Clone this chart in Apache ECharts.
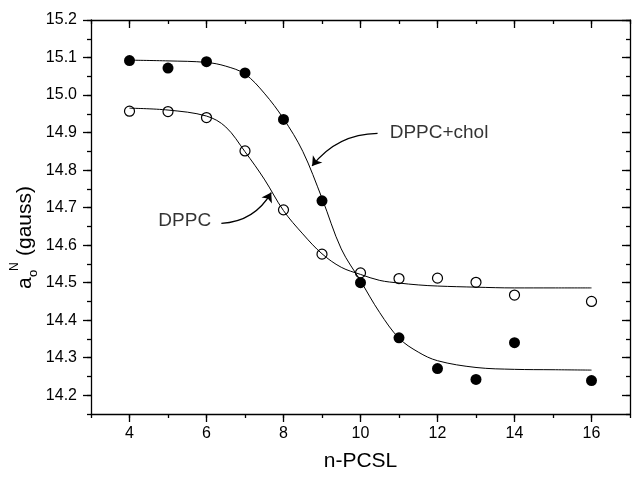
<!DOCTYPE html>
<html><head><meta charset="utf-8">
<script src="https://cdn.jsdelivr.net/npm/echarts@6/dist/echarts.min.js"></script>
<style>html,body{margin:0;padding:0;background:#fff}#c{width:633px;height:477px}</style>
</head><body><div id="c"></div>
<script>
// ---- data ----
const nPCSL = [4, 5, 6, 7, 8, 9, 10, 11, 12, 13, 14, 16];
const dppc = [14.957, 14.956, 14.940, 14.851, 14.694, 14.576, 14.526, 14.511, 14.512, 14.501, 14.467, 14.450];
const dppcChol = [15.092, 15.072, 15.089, 15.059, 14.935, 14.718, 14.500, 14.353, 14.271, 14.242, 14.340, 14.239];
// fitted curves
const fitX = [4, 5, 6, 6.5, 7, 7.5, 8, 8.5, 9, 9.5, 10, 10.5, 11, 11.5, 12, 13, 14, 15, 16];
const dppcFit = [14.965, 14.960, 14.944, 14.915, 14.849, 14.776, 14.692, 14.630, 14.577, 14.541, 14.522, 14.506, 14.499, 14.494, 14.491, 14.488, 14.486, 14.486, 14.486];
const cholFit = [15.093, 15.091, 15.087, 15.077, 15.056, 15.005, 14.937, 14.850, 14.725, 14.590, 14.505, 14.420, 14.352, 14.315, 14.292, 14.274, 14.269, 14.268, 14.267];
// tick labels
const xTickLabels = [4, 6, 8, 10, 12, 14, 16];
const yTickLabels = [14.2, 14.3, 14.4, 14.5, 14.6, 14.7, 14.8, 14.9, 15.0, 15.1, 15.2];
// annotations (data coordinates)
const annoText = ['DPPC', 'DPPC+chol'];
const annoTextPos = [[5.435, 14.666], [12.04, 14.899]];
const annoArrowFrom = [[6.386, 14.658], [10.443, 14.898]];
const annoArrowTo = [[7.681, 14.740], [8.743, 14.811]];

const FONT = '"Liberation Sans", Arial, Helvetica, sans-serif';
const INK = '#000';
const chart = echarts.init(document.getElementById('c'), null, {renderer: 'canvas'});

const lineSt = {color: INK, width: 1.3};
function xAx(pos, inside, len, custom, withLine, withLabel) {
  const a = {
    type: 'value', position: pos, min: 3, max: 17,
    axisLine: {show: withLine, onZero: false, lineStyle: lineSt},
    axisTick: {show: true, inside: inside, length: len, lineStyle: lineSt},
    axisLabel: {show: false},
    splitLine: {show: false}
  };
  if (custom) { a.axisTick.customValues = xTickLabels; } else { a.interval = 1; }
  if (withLabel) {
    a.axisLabel = {show: true, customValues: xTickLabels, fontSize: 16, fontFamily: FONT, color: INK, margin: 12};
    a.name = 'n-PCSL'; a.nameLocation = 'middle'; a.nameGap = 37;
    a.nameTextStyle = {fontSize: 21, fontFamily: FONT, color: INK};
  }
  return a;
}
function yAx(pos, inside, len, custom, withLine, withLabel) {
  const a = {
    type: 'value', position: pos, min: 14.15, max: 15.2,
    axisLine: {show: withLine, onZero: false, lineStyle: lineSt},
    axisTick: {show: true, inside: inside, length: len, lineStyle: lineSt},
    axisLabel: {show: false},
    splitLine: {show: false}
  };
  if (custom) { a.axisTick.customValues = yTickLabels; } else { a.interval = 0.05; }
  if (withLabel) {
    a.axisLabel = {show: true, customValues: yTickLabels, fontSize: 16, fontFamily: FONT, color: INK, margin: 14,
      formatter: v => Number(v).toFixed(1)};
  }
  return a;
}

const option = {
  animation: false,
  backgroundColor: '#fff',
  grid: {left: 91, top: 20, width: 539, height: 396, containLabel: false},
  xAxis: [
    xAx('bottom', false, 4, false, true, false),
    xAx('bottom', false, 8, true, false, true),
    xAx('top', true, 4, false, true, false),
    xAx('top', true, 8, true, false, false)
  ],
  yAxis: [
    yAx('left', false, 4, false, true, false),
    yAx('left', false, 8, true, false, true),
    yAx('right', true, 4, false, true, false),
    yAx('right', true, 8, true, false, false)
  ],
  series: [
    {type: 'line', name: 'DPPC fit', data: fitX.map((x, i) => [x, dppcFit[i]]), showSymbol: false, symbol: 'none',
      smooth: 0.35, lineStyle: {color: INK, width: 1}, z: 2},
    {type: 'line', name: 'DPPC+chol fit', data: fitX.map((x, i) => [x, cholFit[i]]), showSymbol: false, symbol: 'none',
      smooth: 0.35, lineStyle: {color: INK, width: 1}, z: 2},
    {type: 'scatter', name: 'DPPC', data: nPCSL.map((x, i) => [x, dppc[i]]), symbol: 'circle', symbolSize: 10,
      itemStyle: {color: 'rgba(255,255,255,0)', borderColor: INK, borderWidth: 1.2, opacity: 1}, z: 3},
    {type: 'scatter', name: 'DPPC+chol', data: nPCSL.map((x, i) => [x, dppcChol[i]]), symbol: 'circle', symbolSize: 11,
      itemStyle: {color: INK, opacity: 1}, z: 3},
    {type: 'lines', coordinateSystem: 'cartesian2d', symbol: ['none', 'arrow'], symbolSize: 9,
      lineStyle: {color: INK, width: 1.3, opacity: 1},
      data: [
        {coords: [annoArrowFrom[0], annoArrowTo[0]], lineStyle: {curveness: -0.27}},
        {coords: [annoArrowFrom[1], annoArrowTo[1]], lineStyle: {curveness: -0.24}}
      ], z: 4},
    {type: 'scatter', name: 'labels', symbolSize: 1, itemStyle: {color: 'rgba(0,0,0,0)'},
      data: annoText.map((t, i) => ({name: t, value: annoTextPos[i]})),
      label: {show: true, position: 'inside', formatter: '{b}', fontSize: 19, fontFamily: FONT, color: INK}, z: 4}
  ],
  graphic: [{
    type: 'group', x: 25, y: 289, rotation: Math.PI / 2,
    children: [
      {type: 'text', x: 0, y: 0, style: {text: 'a', font: '21px ' + FONT, fill: INK, align: 'left', verticalAlign: 'middle'}},
      {type: 'text', x: 12, y: 8, style: {text: 'o', font: '13px ' + FONT, fill: INK, align: 'left', verticalAlign: 'middle'}},
      {type: 'text', x: 18, y: -10, style: {text: 'N', font: '12px ' + FONT, fill: INK, align: 'left', verticalAlign: 'middle'}},
      {type: 'text', x: 33, y: 0, style: {text: '(gauss)', font: '21px ' + FONT, fill: INK, align: 'left', verticalAlign: 'middle'}}
    ]
  }]
};
chart.setOption(option);
</script>
</body></html>
